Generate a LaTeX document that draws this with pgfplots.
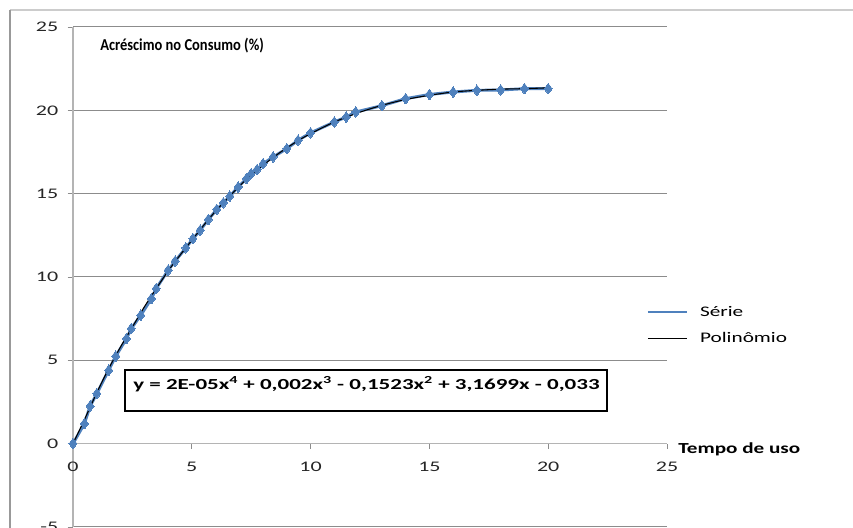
\documentclass[border=0pt]{standalone}
\usepackage{pgfplots}
\pgfplotsset{compat=1.18}
\usepackage{fontspec}
\setmainfont{Carlito}
\newfontfamily\tickfont{Carlito}[FakeStretch=1.5]
\newfontfamily\legfont{Carlito}[FakeStretch=1.45]
\newfontfamily\titfont{Carlito}[FakeStretch=0.87]
\newfontfamily\xlabfont{Carlito}[FakeStretch=1.38]
\newfontfamily\eqfont{Carlito}[FakeStretch=1.5]
\definecolor{serie}{HTML}{4F81BD}
\definecolor{gridc}{HTML}{8C8C8C}
\definecolor{axc}{HTML}{B4B4B4}
\begin{document}
\begin{tikzpicture}
\begin{axis}[
  scale only axis, width=445.5pt, height=375pt,
  xmin=0, xmax=25, ymin=-5, ymax=25,
  axis x line*=middle, axis y line*=left,
  axis line style={draw=axc, line width=0.8pt},
  xtick={0,5,...,25}, ytick={-5,0,...,25},
  hide obscured x ticks=false, hide obscured y ticks=false,
  ymajorgrids, grid style={gridc, line width=0.75pt},
  tick align=outside, major tick length=4pt,
  tick style={gridc, line width=0.6pt},
  ticklabel style={font=\tickfont\fontsize{11}{13}\selectfont, text=black!85},
  xticklabel style={yshift=-6.5pt},
  yticklabel style={xshift=-3.5pt},
  /pgf/number format/assume math mode=true,
  clip=false,
  legend style={at={(0.965,0.448)}, anchor=north west, draw=none, fill=none,
    font=\legfont\fontsize{11}{13}\selectfont, row sep=7pt, inner sep=0pt},
  legend cell align=left,
  legend image code/.code={\draw[#1] (0pt,0pt) -- (29pt,0pt); \path (36pt,0pt);},
]
\addplot[serie, line width=2.2pt, mark=diamond*, mark size=4pt, mark options={fill=serie, draw=serie, line width=0pt}] table {
x y
0 0
0.48 1.2
0.72 2.25
1.0 3.0
1.5 4.4
1.8 5.25
2.25 6.3
2.45 6.9
2.85 7.7
3.3 8.7
3.5 9.3
4.0 10.4
4.3 10.95
4.75 11.75
5.05 12.3
5.35 12.8
5.7 13.45
6.05 14.05
6.33 14.45
6.6 14.85
6.95 15.4
7.3 15.9
7.5 16.2
7.75 16.45
8.0 16.8
8.42 17.2
9.0 17.7
9.47 18.2
10.0 18.65
11.0 19.3
11.5 19.6
11.9 19.9
13.0 20.28
14.0 20.7
15.0 20.95
16.0 21.1
17.0 21.2
18.0 21.22
19.0 21.3
20.0 21.3
};
\addlegendentry{Série}
\addplot[black, line width=0.8pt, smooth] table {
x y
0 0
0.5 1.5
1 3.05
1.5 4.5
2 5.8
2.5 7.0
3 8.2
3.5 9.3
4 10.35
4.5 11.3
5 12.2
5.5 13.1
6 13.95
6.5 14.7
7 15.45
7.5 16.1
8 16.7
8.5 17.25
9 17.75
9.5 18.2
10 18.6
11 19.3
12 19.85
13 20.3
14 20.65
15 20.9
16 21.1
17 21.2
18 21.27
19 21.3
20 21.35
};
\addlegendentry{Polinômio}
\end{axis}
\begin{scope}[x=0.75pt, y=-0.75pt, shift={(-54.75pt,395.25pt)}]
\draw[black!20, line width=0.8pt] (10,10) -- (853,10);
\draw[black!40, line width=1.2pt] (10,10) -- (10,528);
\node[anchor=west, inner sep=0pt, font=\titfont\bfseries\fontsize{12.5}{14}\selectfont] at (100,46) {Acréscimo no Consumo (\%)};
\node[anchor=west, inner sep=0pt, font=\xlabfont\bfseries\fontsize{11.5}{13}\selectfont] at (678,449) {Tempo de uso};
\draw[black, line width=1.5pt, fill=white] (125,370) rectangle (607,411);
\node[anchor=west, inner sep=0pt, font=\eqfont\bfseries\fontsize{11.5}{14}\selectfont] at (133,384) {y = 2E-05x\textsuperscript{4} + 0,002x\textsuperscript{3} - 0,1523x\textsuperscript{2} + 3,1699x - 0,033};
\end{scope}
\pgfresetboundingbox
\path[use as bounding box] (-54.75pt,-0.75pt) rectangle (585pt,395.25pt);
\end{tikzpicture}
\end{document}
